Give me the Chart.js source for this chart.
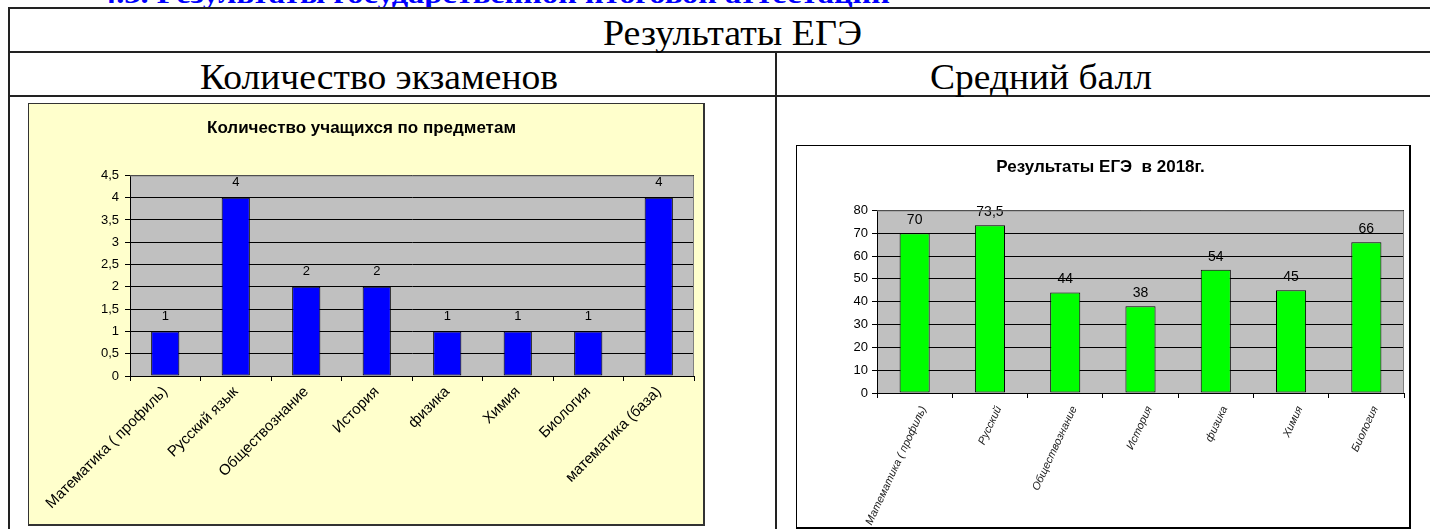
<!DOCTYPE html>
<html><head><meta charset="utf-8">
<script src="https://cdn.jsdelivr.net/npm/chart.js@4.4.0/dist/chart.umd.min.js"></script>
<style>
html,body{margin:0;padding:0;background:#fff;width:1430px;height:529px;overflow:hidden;position:relative;}
.ln{position:absolute;background:#222;}
.txt{position:absolute;white-space:nowrap;font-family:"Liberation Serif","Times New Roman",serif;color:#000;transform-origin:0 0;line-height:1;}
#c1wrap{position:absolute;left:28px;top:103px;width:674px;height:420px;border:1px solid #333;border-right-width:2px;border-bottom-width:2px;background:#FFFFCC;}
#c2wrap{position:absolute;left:796px;top:145px;width:612px;height:381px;border:1px solid #000;border-right-width:2px;border-bottom-width:2px;background:#fff;}
canvas{display:block;}
</style></head><body>
<div class="txt" id="t0" style="color:#0000FF;font-weight:bold;font-size:28px" data-l="100" data-r="890" data-b="3">4.3. Результаты государственной итоговой аттестации</div>
<div class="ln" style="left:8px;top:7px;width:1422px;height:2px"></div>
<div class="ln" style="left:8px;top:7px;width:2px;height:522px"></div>
<div class="ln" style="left:8px;top:51px;width:1422px;height:2px"></div>
<div class="ln" style="left:8px;top:95px;width:1422px;height:2px"></div>
<div class="ln" style="left:775px;top:51px;width:2px;height:478px"></div>
<div class="txt" id="t1" style="font-size:36px" data-l="603" data-r="862" data-b="45">Результаты ЕГЭ</div>
<div class="txt" id="t2" style="font-size:36px" data-l="200" data-r="558" data-b="89">Количество экзаменов</div>
<div class="txt" id="t3" style="font-size:36px" data-l="930" data-r="1152" data-b="89">Средний балл</div>
<div id="c1wrap"><canvas id="c1" width="674" height="420"></canvas></div>
<div id="c2wrap"><canvas id="c2" width="612" height="381"></canvas></div>
<script>
// ---- data ----
const subjects1 = ['Математика ( профиль)','Русский язык','Обществознание','История','физика','Химия','Биология','математика (база)'];
const students1 = [1,4,2,2,1,1,1,4];
const title1 = 'Количество учащихся по предметам';
const yMax1 = 4.5, yStep1 = 0.5;

const subjects2 = ['Математика ( профиль)','Русский','Обществознание','История','физика','Химия','Биология'];
const scores2 = [70,73.5,44,38,54,45,66];
const title2 = 'Результаты ЕГЭ  в 2018г.';
const yMax2 = 80, yStep2 = 10;

// ---- fit header texts ----
document.querySelectorAll('.txt').forEach(el=>{
  const fs = parseFloat(el.style.fontSize);
  const l = +el.dataset.l, r = +el.dataset.r, b = +el.dataset.b;
  el.style.left = l+'px';
  el.style.top = (b - 0.8375*fs)+'px';
  const w = el.getBoundingClientRect().width;
  el.style.transform = 'scaleX('+((r-l)/w)+')';
});

const comma = v => String(v).replace('.', ',');
const SANS = '"Liberation Sans", Arial, sans-serif';

const plotBg = {
  id:'plotBg',
  beforeDraw(chart){
    const {ctx, chartArea:a} = chart;
    ctx.save(); ctx.fillStyle = '#C0C0C0';
    ctx.fillRect(a.left, a.top, a.right-a.left, a.bottom-a.top); ctx.restore();
  },
  afterDraw(chart){
    const {ctx, chartArea:a} = chart;
    ctx.save(); ctx.strokeStyle = '#808080'; ctx.lineWidth = 1;
    ctx.beginPath();
    ctx.moveTo(a.left, a.top+0.5); ctx.lineTo(a.right-0.5, a.top+0.5); ctx.lineTo(a.right-0.5, a.bottom);
    ctx.stroke(); ctx.restore();
  }
};
const valueLabels = {
  id:'valueLabels',
  afterDatasetsDraw(chart, args, opts){
    const {ctx} = chart;
    const ds = chart.data.datasets[0];
    const meta = chart.getDatasetMeta(0);
    ctx.save();
    ctx.fillStyle = '#000'; ctx.font = opts.font; ctx.textAlign = 'center'; ctx.textBaseline = 'middle';
    meta.data.forEach((bar,i)=>{ ctx.fillText(comma(ds.data[i]), bar.x, bar.y - opts.offset); });
    ctx.restore();
  }
};

function makeChart(id, labels, data, color, title, yMax, yStep, cfg){
  return new Chart(document.getElementById(id), {
    type:'bar',
    data:{labels, datasets:[{data, backgroundColor:color, borderColor:'#000', borderWidth:1, borderSkipped:false,
      barPercentage:0.4, categoryPercentage:1}]},
    plugins:[plotBg, valueLabels],
    options:{
      responsive:false, animation:false, devicePixelRatio:1,
      layout:{padding:{left:0, right:cfg.padRight, top:0, bottom:0}},
      plugins:{
        legend:{display:false}, tooltip:{enabled:false},
        title:{display:true, text:title, color:'#000', font:{family:SANS, size:cfg.titleSize, weight:'bold'},
          padding:{top:cfg.titleTop, bottom:cfg.titleBottom}},
        valueLabels:{font:cfg.valFont, offset:cfg.valOffset}
      },
      scales:{
        x:{
          offset:true,
          grid:{display:true, offset:true, drawOnChartArea:false, drawTicks:true, tickLength:5, color:'#000', lineWidth:1},
          border:{display:true, color:'#000', width:1},
          ticks:{autoSkip:false, minRotation:cfg.rot, maxRotation:cfg.rot, color:cfg.xColor, padding:cfg.xPad,
            labelOffset:cfg.xShift, font:{family:SANS, size:cfg.xSize, style:cfg.xStyle}},
          afterFit(s){ s.height = cfg.xHeight; }
        },
        y:{
          min:0, max:yMax,
          grid:{color:'#000', lineWidth:1, drawTicks:true, tickLength:5},
          border:{display:true, color:'#000', width:1},
          ticks:{stepSize:yStep, color:'#000', padding:cfg.yPad, font:{family:SANS, size:cfg.ySize}, callback:v=>comma(v)},
          afterFit(s){ s.width = cfg.yWidth; }
        }
      }
    }
  });
}

makeChart('c1', subjects1, students1, '#0000FF', title1, yMax1, yStep1, {
  padRight:9, titleSize:17, titleTop:14, titleBottom:37, valFont:'13px '+SANS, valOffset:15,
  rot:45, xColor:'#000', xPad:2, xShift:0, xSize:15, xStyle:'normal', xHeight:148, yWidth:101, yPad:6, ySize:13
});
makeChart('c2', subjects2, scores2, '#00FF00', title2, yMax2, yStep2, {
  padRight:5, titleSize:17, titleTop:11, titleBottom:33, valFont:'14px '+SANS, valOffset:13,
  rot:65, xColor:'#222', xPad:6, xShift:9, xSize:11, xStyle:'italic', xHeight:134, yWidth:80, yPad:4, ySize:13
});
</script>
</body></html>
